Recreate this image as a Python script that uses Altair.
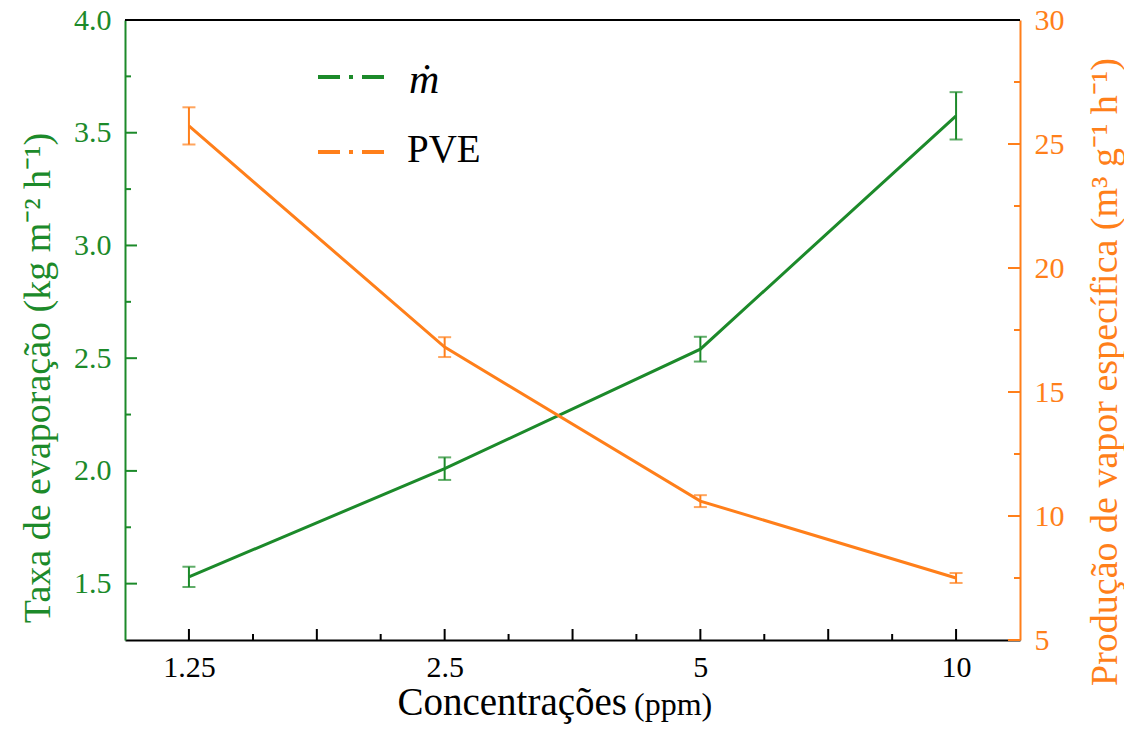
import altair as alt
import pandas as pd

# ---- data ----
conc = [1.25, 2.5, 5, 10]
m_dot = [1.53, 2.01, 2.54, 3.575]
m_err = [0.045, 0.05, 0.055, 0.105]
pve = [25.73, 16.81, 10.60, 7.50]
pve_err = [0.75, 0.40, 0.24, 0.20]

x_labels = [1.25, 2.5, 5, 10]
x_major = [1.25, 1.768, 2.5, 3.536, 5, 7.071, 10]
x_minor = [1.487, 2.102, 2.973, 4.204, 5.946, 8.409]
left_major = [1.5, 2.0, 2.5, 3.0, 3.5, 4.0]
left_minor = [1.75, 2.25, 2.75, 3.25, 3.75]
right_major = [5, 10, 15, 20, 25, 30]
right_minor = [7.5, 12.5, 17.5, 22.5, 27.5]

G = "#1C8A2A"
O = "#FF7F1A"
FONT = "Liberation Serif"
W, H = 895, 620

df = pd.DataFrame({
    "conc": conc,
    "m": m_dot,
    "m_lo": [v - e for v, e in zip(m_dot, m_err)],
    "m_hi": [v + e for v, e in zip(m_dot, m_err)],
    "pve": pve,
    "p_lo": [v - e for v, e in zip(pve, pve_err)],
    "p_hi": [v + e for v, e in zip(pve, pve_err)],
})

x_axis = alt.Axis(values=x_labels, format="~g", ticks=False, grid=False,
                  domainColor="black", domainWidth=2, labelColor="black",
                  labelFont=FONT, labelFontSize=30, labelPadding=12, title=None)
x_scale = alt.Scale(type="log", base=2, domain=[1.0511, 11.892])


def X(field):
    return alt.X(field, type="quantitative", scale=x_scale, axis=x_axis)


left_axis = alt.Axis(values=left_major, format=".1f", ticks=False, grid=False,
                     orient="left", domainColor=G, domainWidth=2, labelColor=G,
                     labelFont=FONT, labelFontSize=30, labelPadding=14, title=None)
left_scale = alt.Scale(domain=[1.25, 4.0], nice=False, zero=False)

right_axis = alt.Axis(values=right_major, format="d", ticks=False, grid=False,
                      orient="right", domainColor=O, domainWidth=2, labelColor=O,
                      labelFont=FONT, labelFontSize=30, labelPadding=14, title=None)
right_scale = alt.Scale(domain=[5, 30], nice=False, zero=False)


def YL(field):
    return alt.Y(field, type="quantitative", scale=left_scale, axis=left_axis)


def YR(field):
    return alt.Y(field, type="quantitative", scale=right_scale, axis=right_axis)


base = alt.Chart(df)

# ---- left (green) group ----
g_line = base.mark_line(color=G, strokeWidth=3).encode(x=X("conc"), y=YL("m"))
g_bar = base.mark_rule(color=G, strokeWidth=2).encode(x=X("conc"), y=YL("m_lo"), y2="m_hi")
g_cap1 = base.mark_tick(color=G, orient="horizontal", size=13, thickness=2).encode(x=X("conc"), y=YL("m_lo"))
g_cap2 = base.mark_tick(color=G, orient="horizontal", size=13, thickness=2).encode(x=X("conc"), y=YL("m_hi"))
g_tmaj = alt.Chart(pd.DataFrame({"v": left_major})).mark_rule(color=G, strokeWidth=2).encode(
    x=alt.value(0), x2=alt.value(12), y=YL("v"))
g_tmin = alt.Chart(pd.DataFrame({"v": left_minor})).mark_rule(color=G, strokeWidth=2).encode(
    x=alt.value(0), x2=alt.value(6), y=YL("v"))
left_group = alt.layer(g_line, g_bar, g_cap1, g_cap2, g_tmaj, g_tmin)

# ---- right (orange) group ----
o_line = base.mark_line(color=O, strokeWidth=3).encode(x=X("conc"), y=YR("pve"))
o_bar = base.mark_rule(color=O, strokeWidth=2).encode(x=X("conc"), y=YR("p_lo"), y2="p_hi")
o_cap1 = base.mark_tick(color=O, orient="horizontal", size=13, thickness=2).encode(x=X("conc"), y=YR("p_lo"))
o_cap2 = base.mark_tick(color=O, orient="horizontal", size=13, thickness=2).encode(x=X("conc"), y=YR("p_hi"))
o_tmaj = alt.Chart(pd.DataFrame({"v": right_major})).mark_rule(color=O, strokeWidth=2).encode(
    x=alt.value(W - 12), x2=alt.value(W), y=YR("v"))
o_tmin = alt.Chart(pd.DataFrame({"v": right_minor})).mark_rule(color=O, strokeWidth=2).encode(
    x=alt.value(W - 6), x2=alt.value(W), y=YR("v"))
right_group = alt.layer(o_line, o_bar, o_cap1, o_cap2, o_tmaj, o_tmin)

# ---- x ticks (inward) and frame ----
x_tmaj = alt.Chart(pd.DataFrame({"v": x_major})).mark_rule(color="black", strokeWidth=2).encode(
    x=X("v"), y=alt.value(H - 11), y2=alt.value(H))
x_tmin = alt.Chart(pd.DataFrame({"v": x_minor})).mark_rule(color="black", strokeWidth=2).encode(
    x=X("v"), y=alt.value(H - 6), y2=alt.value(H))
top_line = alt.Chart(pd.DataFrame({"a": [0]})).mark_rule(color="black", strokeWidth=2).encode(
    x=alt.value(0), x2=alt.value(W), y=alt.value(0))

# ---- legend ----
one = pd.DataFrame({"a": [0]})
leg_g = alt.Chart(one).mark_rule(color=G, strokeWidth=4, strokeDash=[22, 9, 4, 9]).encode(
    x=alt.value(193), x2=alt.value(260), y=alt.value(57))
leg_o = alt.Chart(one).mark_rule(color=O, strokeWidth=4, strokeDash=[22, 9, 4, 9]).encode(
    x=alt.value(193), x2=alt.value(260), y=alt.value(132))
leg_gt = alt.Chart(one).mark_text(text="ṁ", font=FONT, fontSize=42, fontStyle="italic",
                                  align="left", baseline="alphabetic", color="black").encode(
    x=alt.value(284), y=alt.value(73))
leg_ot = alt.Chart(one).mark_text(text="PVE", font=FONT, fontSize=39,
                                  align="left", baseline="alphabetic", color="black").encode(
    x=alt.value(282), y=alt.value(142))

# ---- axis titles ----
x_t1 = alt.Chart(one).mark_text(text="Concentrações", font=FONT, fontSize=39,
                                align="right", baseline="alphabetic", color="black").encode(
    x=alt.value(502), y=alt.value(695))
x_t2 = alt.Chart(one).mark_text(text="(ppm)", font=FONT, fontSize=32,
                                align="left", baseline="alphabetic", color="black").encode(
    x=alt.value(509), y=alt.value(695))
y_tl = alt.Chart(one).mark_text(text="Taxa de evaporação (kg m⁻² h⁻¹)", font=FONT, fontSize=38,
                                angle=270, align="center", baseline="middle", color=G).encode(
    x=alt.value(-86), y=alt.value(358))
y_tr = alt.Chart(one).mark_text(text="Produção de vapor específica (m³ g⁻¹ h⁻¹)", font=FONT, fontSize=38,
                                angle=270, align="center", baseline="middle", color=O).encode(
    x=alt.value(981), y=alt.value(352))

chart = alt.layer(
    left_group, right_group,
    x_tmaj, x_tmin, top_line,
    leg_g, leg_o, leg_gt, leg_ot,
    x_t1, x_t2, y_tl, y_tr,
).resolve_scale(y="independent").properties(
    width=W, height=H,
    autosize=alt.AutoSizeParams(type="none"),
    padding={"left": 117, "top": 12, "right": 104, "bottom": 85},
).configure_view(stroke=None)

chart.save("out.html", embed_options={"renderer": "svg", "actions": False})
